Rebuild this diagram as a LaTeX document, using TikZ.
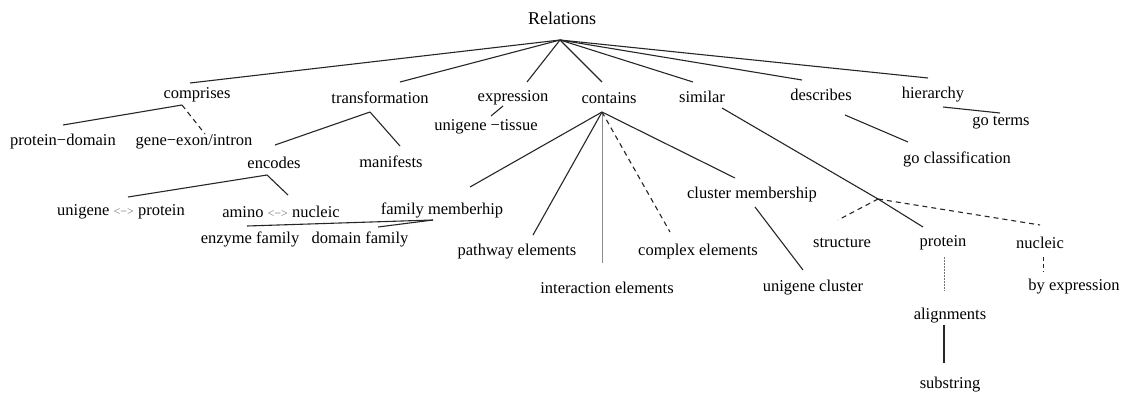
\documentclass[tikz,border=0pt]{standalone}
\usepackage{fontspec}
\setmainfont{LiberationSerif}[Extension=.ttf,UprightFont=*-Regular,BoldFont=*-Bold]
\begin{document}
\begin{tikzpicture}[x=1pt,y=-1pt,
  lbl/.style={inner sep=0pt,font=\fontsize{16.5}{18}\selectfont},
  link/.style={line width=1.1pt,black!85},
  dlink/.style={link,dash pattern=on 5pt off 4pt},
  glink/.style={line width=0.9pt,black!45},
  dotlink/.style={line width=0.9pt,black!55,dash pattern=on 2pt off 1pt}]
\newcommand{\arr}{{\color{black!55}\fontsize{12}{12}\selectfont<−>}}
\useasboundingbox (0,0) rectangle (1135,405);
% labels
\node[lbl,font=\fontsize{18}{20}\selectfont] (root) at (562,18) {Relations};
\node[lbl] (comprises) at (197,95) {comprises};
\node[lbl] (transformation) at (380,98) {transformation};
\node[lbl] (expression) at (513,98) {expression};
\node[lbl] (contains) at (609,98) {contains};
\node[lbl] (similar) at (702,97) {similar};
\node[lbl] (describes) at (821,95) {describes};
\node[lbl] (hierarchy) at (933,95) {hierarchy};
\node[lbl] (goterms) at (1001,123) {go terms};
\node[lbl] (goclass) at (957,159) {go classification};
\node[lbl] (protdom) at (63,142) {protein−domain};
\node[lbl] (geneexon) at (194,142) {gene−exon/intron};
\node[lbl] (encodes) at (274,163) {encodes};
\node[lbl] (manifests) at (391,162) {manifests};
\node[lbl] (uniprot) at (121,212) {unigene \arr{} protein};
\node[lbl] (aminonuc) at (281,212) {amino \arr{} nucleic};
\node[lbl] (family) at (442,210) {family memberhip};
\node[lbl] (enzyme) at (250,239) {enzyme family};
\node[lbl] (domain) at (360,239) {domain family};
\node[lbl] (unitissue) at (486,127) {unigene −tissue};
\node[lbl] (pathway) at (517,252) {pathway elements};
\node[lbl] (interaction) at (607,288) {interaction elements};
\node[lbl] (complex) at (698,252) {complex elements};
\node[lbl] (cluster) at (752,195) {cluster membership};
\node[lbl] (unicluster) at (813,288) {unigene cluster};
\node[lbl] (structure) at (842,243) {structure};
\node[lbl] (protein) at (943,243) {protein};
\node[lbl] (nucleic) at (1040,243) {nucleic};
\node[lbl] (byexpr) at (1074,287) {by expression};
\node[lbl] (alignments) at (950,316) {alignments};
\node[lbl] (substring) at (950,385) {substring};
% connector end points
\coordinate (root-o) at (560,40);
\coordinate (comprises-i) at (190,83);
\coordinate (transformation-i) at (400,82);
\coordinate (expression-i) at (527,82);
\coordinate (contains-i) at (602,82);
\coordinate (similar-i) at (693,82);
\coordinate (describes-i) at (802,80);
\coordinate (hierarchy-i) at (928,78);
\coordinate (comprises-o) at (182,105);
\coordinate (protdom-i) at (63,125);
\coordinate (geneexon-i) at (205,134);
\coordinate (transformation-o) at (370,112);
\coordinate (encodes-i) at (275,145);
\coordinate (manifests-i) at (400,146);
\coordinate (encodes-o) at (267,175);
\coordinate (uniprot-i) at (128,197);
\coordinate (aminonuc-i) at (288,195);
\coordinate (expression-o) at (503,106);
\coordinate (unitissue-i) at (491,116);
\coordinate (contains-o) at (602,112);
\coordinate (family-i) at (470,187);
\coordinate (pathway-i) at (533,235);
\coordinate (interaction-i) at (602,263);
\coordinate (complex-i) at (670,232);
\coordinate (cluster-i) at (735,178);
\coordinate (cluster-o) at (755,207);
\coordinate (unicluster-i) at (803,270);
\coordinate (family-o) at (433,220);
\coordinate (enzyme-i) at (247,226);
\coordinate (domain-i) at (378,227);
\coordinate (similar-o) at (722,108);
\coordinate (similar-hub) at (878,199);
\coordinate (protein-i) at (923,227);
\coordinate (structure-i) at (838,220);
\coordinate (nucleic-i) at (1040,225);
\coordinate (describes-o) at (845,115);
\coordinate (goclass-i) at (908,142);
\coordinate (hierarchy-o) at (943,107);
\coordinate (goterms-i) at (1000,113);
\coordinate (protein-o) at (944,257);
\coordinate (alignments-i) at (944,291);
\coordinate (nucleic-o) at (1043,257);
\coordinate (byexpr-i) at (1043,272);
\coordinate (alignments-o) at (944,325);
\coordinate (substring-i) at (944,363);
% connectors
\foreach \c in {comprises,transformation,expression,contains,similar,describes,hierarchy}
  \draw[link] (root-o) -- (\c-i);
\draw[link] (comprises-o) -- (protdom-i);
\draw[dlink] (comprises-o) -- (geneexon-i);
\draw[link] (transformation-o) -- (encodes-i);
\draw[link] (transformation-o) -- (manifests-i);
\draw[link] (encodes-o) -- (uniprot-i);
\draw[link] (encodes-o) -- (aminonuc-i);
\draw[link] (expression-o) -- (unitissue-i);
\draw[link] (contains-o) -- (family-i);
\draw[link] (contains-o) -- (pathway-i);
\draw[glink] (contains-o) -- (interaction-i);
\draw[dlink] (contains-o) -- (complex-i);
\draw[link] (contains-o) -- (cluster-i);
\draw[link] (cluster-o) -- (unicluster-i);
\draw[link] (family-o) -- (enzyme-i);
\draw[link] (family-o) -- (domain-i);
\draw[link] (similar-o) -- (similar-hub) -- (protein-i);
\draw[dlink] (similar-hub) -- (structure-i);
\draw[dlink] (similar-hub) -- (nucleic-i);
\draw[link] (describes-o) -- (goclass-i);
\draw[link] (hierarchy-o) -- (goterms-i);
\draw[dotlink] (protein-o) -- (alignments-i);
\draw[dlink,line width=0.8pt,dash pattern=on 4pt off 3pt] (nucleic-o) -- (byexpr-i);
\draw[link] (alignments-o) -- (substring-i);
\end{tikzpicture}
\end{document}
